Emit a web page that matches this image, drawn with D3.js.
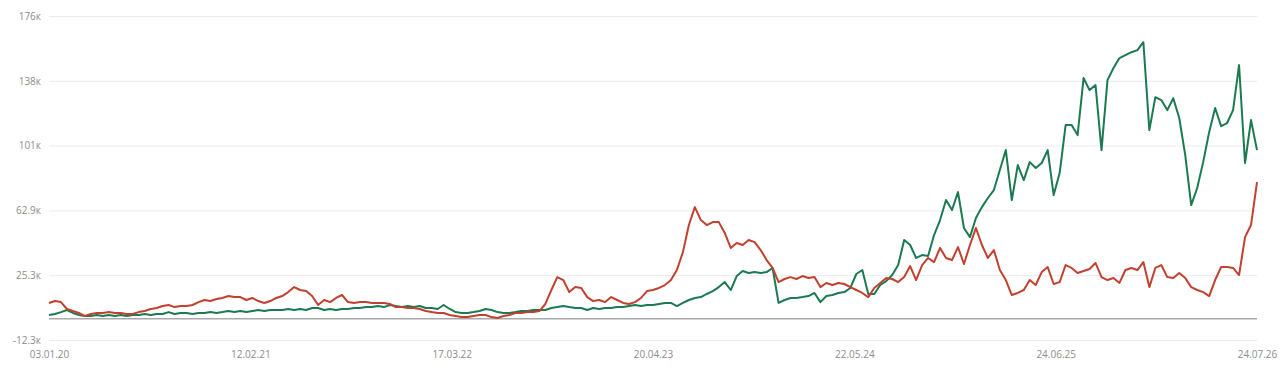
<!DOCTYPE html>
<html>
<head>
<meta charset="utf-8">
<script src="https://cdn.jsdelivr.net/npm/d3@7"></script>
<style>
  html, body { margin: 0; padding: 0; background: #fff; }
  svg { display: block; }
</style>
</head>
<body>
<svg id="chart"></svg>
<script>
// x axis labels, evenly spread over the whole period
const dateLabels = ["03.01.20", "12.02.21", "17.03.22", "20.04.23", "22.05.24", "24.06.25", "24.07.26"];

// y axis (thousands)
const yMin = -12.3;
const yMax = 175.7;
const yTickLabels = ["-12.3к", "25.3к", "62.9к", "101к", "138к", "176к"];

// series values, thousands left to right
const greenSeries = [
  2.2,2.8,3.9,5.1,3.4,2.2,1.6,1.6,2.2,1.6,
  2.2,1.6,2.2,1.6,2.2,2.2,2.8,2.2,2.8,2.8,
  3.9,2.8,3.4,3.4,2.8,3.4,3.4,3.9,3.4,3.9,
  4.5,3.9,4.5,3.9,4.5,5.1,4.5,5.1,5.1,5.1,
  5.7,5.1,5.7,5.1,6.3,6.3,5.1,5.7,5.1,5.7,
  5.7,6.3,6.3,6.8,6.8,7.4,6.8,8.0,7.4,6.8,
  7.4,6.8,7.4,6.3,6.3,5.7,8.0,5.7,3.9,3.4,
  3.4,3.9,4.5,5.7,5.1,3.9,3.4,3.4,3.9,4.5,
  4.5,5.1,5.1,5.1,6.3,6.8,7.4,6.8,6.3,6.3,
  5.1,6.3,5.7,6.3,6.3,6.8,6.8,7.4,8.0,7.4,
  8.0,8.0,8.6,9.2,9.2,7.4,9.2,10.9,12.1,12.6,
  14.4,16.1,18.4,21.3,16.7,24.8,27.7,26.6,27.1,26.6,
  27.1,29.5,9.2,10.9,12.1,12.1,12.6,13.2,15.0,9.7,
  13.2,13.8,15.0,15.5,17.9,26.0,28.3,14.4,14.4,19.6,
  21.9,25.4,31.2,45.7,42.8,35.3,37.0,36.4,48.6,57.3,
  68.9,63.1,73.5,52.7,47.4,58.5,64.8,70.1,74.7,86.3,
  97.9,68.9,89.2,80.5,90.9,87.5,90.4,97.9,71.8,84.6,
  112.4,112.4,106.6,139.7,132.7,135.6,97.9,138.5,145.5,151.3,
  153.0,154.7,155.9,160.5,109.5,128.6,126.9,121.1,128.0,116.5,
  95.0,66.0,75.9,90.9,108.3,122.3,111.8,113.6,121.1,147.2,
  90.4,115.3,97.9
];

const redSeries = [
  9.2,10.3,9.7,5.7,4.5,3.4,1.6,2.8,3.4,3.4,
  3.9,3.4,3.4,2.8,2.8,3.9,4.5,5.7,6.3,7.4,
  8.0,6.8,7.4,7.4,8.0,9.7,10.9,10.3,11.5,12.1,
  13.2,12.6,12.6,10.9,12.1,10.3,9.2,10.3,12.1,13.2,
  15.5,18.4,16.7,16.1,13.2,8.0,10.9,9.7,12.1,13.8,
  9.7,9.2,9.7,9.7,9.2,9.2,9.2,8.6,6.8,6.8,
  6.3,6.3,5.7,4.5,3.9,3.4,3.4,2.2,1.6,1.0,
  1.0,1.6,2.2,2.2,1.0,0.5,1.6,2.2,3.4,3.4,
  3.9,3.9,4.5,8.6,16.7,24.2,22.5,15.5,18.4,17.9,
  12.6,10.3,10.9,9.7,12.6,10.9,9.2,8.6,9.7,12.1,
  16.1,16.7,17.9,19.6,22.5,28.3,38.7,54.4,64.8,57.3,
  54.4,56.1,56.1,49.8,41.1,44.0,42.8,45.7,44.5,39.9,
  34.1,29.5,21.3,23.1,24.2,23.1,24.8,23.7,24.2,18.4,
  20.8,19.6,20.8,20.2,18.4,16.7,15.0,12.6,17.9,20.8,
  23.7,23.1,21.3,24.2,30.6,22.5,31.2,35.3,32.9,41.1,
  35.3,34.1,41.6,31.8,42.8,52.7,42.8,35.3,39.9,28.3,
  22.5,13.8,15.0,16.7,22.5,19.6,27.1,30.0,20.2,21.3,
  31.2,29.5,26.6,27.7,28.9,32.4,24.2,22.5,23.7,20.8,
  28.3,29.5,28.3,32.9,18.4,29.5,31.2,24.2,23.7,26.6,
  23.7,18.4,16.7,15.5,13.2,22.5,30.0,30.0,29.5,25.4,
  47.4,54.4,79.3
];

const size = {
  width: 1280, height: 370,
  margin: { left: 49, right: 23, top: 16, bottom: 30 }
};

const svg = d3.select("#chart")
  .attr("width", size.width)
  .attr("height", size.height);

const n = greenSeries.length;
const xScale = d3.scaleLinear([0, n - 1], [size.margin.left, size.width - size.margin.right]);
const yScale = d3.scaleLinear([yMin, yMax], [size.height - size.margin.bottom, size.margin.top]);

const yTicks = yTickLabels.map((d, i) => yMin + i * (yMax - yMin) / (yTickLabels.length - 1));
const xTicks = dateLabels.map((d, i) => i * (n - 1) / (dateLabels.length - 1));

// grid + y labels
svg.append("g")
  .attr("transform", `translate(${size.margin.left},0)`)
  .call(d3.axisLeft(yScale)
    .tickValues(yTicks)
    .tickSize(-(size.width - size.margin.left - size.margin.right))
    .tickPadding(8)
    .tickFormat((d, i) => yTickLabels[i]))
  .call(g => g.select(".domain").remove())
  .call(g => g.selectAll(".tick line").attr("stroke", "#ebebeb").attr("stroke-width", 1))
  .call(g => g.selectAll(".tick text")
    .attr("fill", "#8c8c8c")
    .attr("font-family", "'Open Sans', sans-serif")
    .attr("font-size", 10));

// x labels
svg.append("g")
  .attr("transform", `translate(0,${size.height - size.margin.bottom})`)
  .call(d3.axisBottom(xScale)
    .tickValues(xTicks)
    .tickSize(0)
    .tickPadding(11)
    .tickFormat((d, i) => dateLabels[i]))
  .call(g => g.select(".domain").remove())
  .call(g => g.selectAll(".tick text")
    .attr("fill", "#8c8c8c")
    .attr("font-family", "'Open Sans', sans-serif")
    .attr("font-size", 10));

// zero line
svg.append("line")
  .attr("x1", xScale(0))
  .attr("x2", xScale(n - 1))
  .attr("y1", yScale(0))
  .attr("y2", yScale(0))
  .attr("stroke", "#a9a9a9")
  .attr("stroke-width", 1.5);

const line = d3.line()
  .x((d, i) => xScale(i))
  .y(d => yScale(d));

svg.append("path")
  .datum(greenSeries)
  .attr("d", line)
  .attr("fill", "none")
  .attr("stroke", "#1b7a4f")
  .attr("stroke-width", 2)
  .attr("stroke-linejoin", "round");

svg.append("path")
  .datum(redSeries)
  .attr("d", line)
  .attr("fill", "none")
  .attr("stroke", "#c2402f")
  .attr("stroke-width", 2)
  .attr("stroke-linejoin", "round");
</script>
</body>
</html>
